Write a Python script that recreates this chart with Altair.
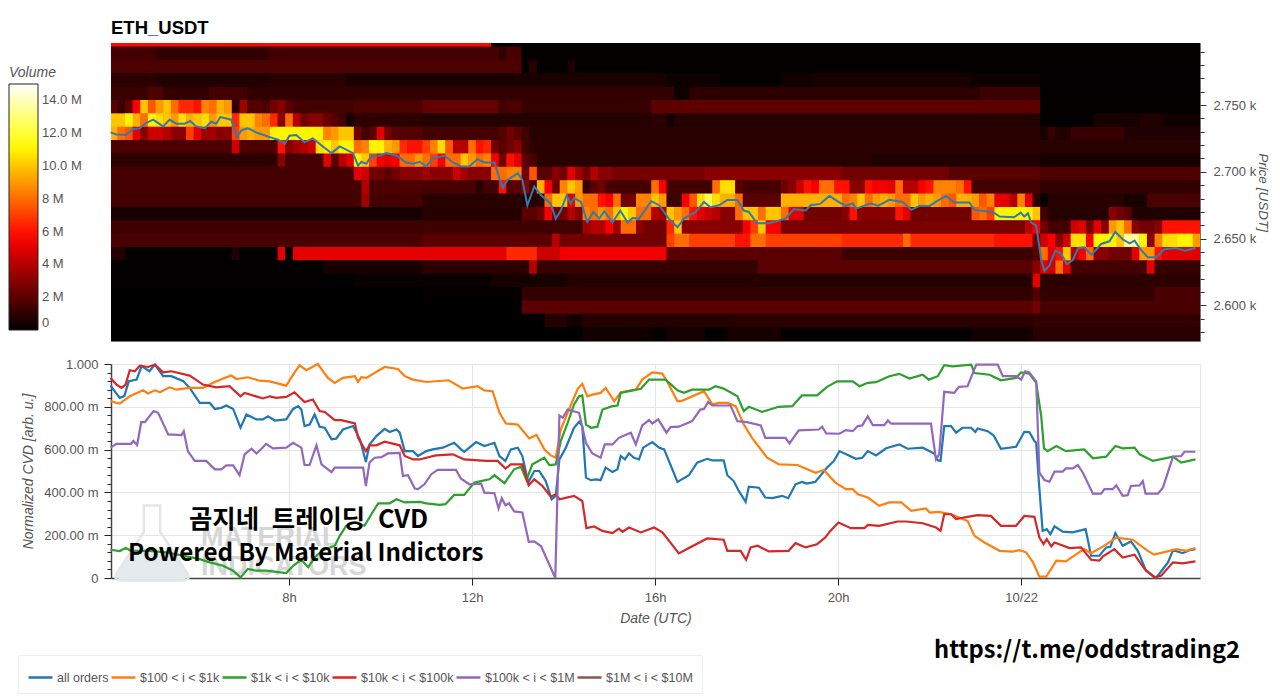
import altair as alt
import pandas as pd

# ---------- price heat-map: (first 10-minute column, volume in M) runs per price row ----------
row_2798 = [(0,5.8),(50,0.05)]
row_2788 = [(0,1.5),(6,1.1),(21,1.5),(51,1.1),(52,1.6),(54,0.08)]
row_2778 = [(0,1.7),(54,0.1),(55,0.9),(56,0.1),(60,0.6),(61,0.08)]
row_2768 = [(0,1.0),(6,0.7),(21,0.9),(31,0.6),(60,0.6),(73,0.3),(80,0.1),(88,0.4),(92,0.5),(113,0.3),(122,0.05)]
row_2758 = [(0,1.3),(5,1.7),(7,1.1),(13,1.5),(18,1.1),(74,0.3),(76,1.0),(114,1.3),(122,0.08)]
row_2748 = [(0,2),(1,1.3),(2,2.1),(3,5.6),(4,10),(5,7.5),(6,9),(7,10),(8,8),(9,6.5),(11,6),(12,8.5),(13,8),(14,9.5),(15,9),(16,1),(17,3.5),(18,1.8),(20,1.6),(21,2.5),(22,3),(23,2),(24,1.5),(32,1.7),(41,2.2),(51,1.5),(52,1.7),(54,1.2),(71,2.1),(122,0.08)]
row_2738 = [(0,10),(2,11),(3,9.5),(4,8),(5,11),(6,10.5),(7,10),(8,9),(9,10.5),(10,9.5),(11,10),(12,10.5),(13,9),(14,10),(16,6.5),(17,10),(19,8.5),(20,8),(21,6.5),(22,3),(23,8),(24,4),(25,2.5),(26,3),(28,2.3),(29,1.8),(30,1.5),(31,0.5),(32,1.0),(41,0.8),(71,1.0),(73,0.4),(74,0.8),(122,0.05),(129,0.5),(135,0.7),(138,0.4)]
row_2728 = [(0,9.5),(1,8),(2,7.5),(3,5),(4,3),(5,4.5),(7,4),(8,3),(10,7),(11,5),(12,3.5),(14,3),(16,7),(17,9),(18,9.5),(19,9),(21,11),(28,8.5),(29,9),(30,10),(32,2.5),(33,1.5),(34,2),(35,5),(36,2.5),(37,2),(38,1.8),(41,1.5),(51,1.8),(52,2.5),(53,2),(54,1.5),(55,0.9),(122,0.5),(123,1.2),(124,0.7),(126,1.2),(133,0.7)]
row_2718 = [(0,1.7),(16,4.5),(17,1.7),(22,6),(23,3),(24,3.5),(25,4),(26,4.5),(27,10.5),(28,11),(29,10),(30,11),(32,8),(33,8.5),(34,11),(36,9.5),(37,9),(38,6.5),(39,6),(41,7),(42,8.5),(43,10.5),(44,7.5),(45,4),(47,8),(48,6),(49,6.5),(50,2.5),(51,2),(52,2.5),(53,3),(54,1.5),(55,1),(122,0.9)]
row_2708 = [(0,1),(22,3),(23,1.5),(28,5),(29,2),(30,4),(31,5),(32,11),(33,10),(34,7),(35,5.5),(36,5),(37,5.5),(38,8),(40,9),(41,8),(42,7),(43,5.5),(44,8),(46,10),(47,9),(48,8),(49,8.5),(50,5.5),(51,2.5),(52,6),(53,5),(54,2),(55,1.6),(56,0.9),(100,0.7),(122,0.5)]
row_2698 = [(0,1.5),(32,5),(33,4.5),(34,2.5),(36,2),(37,2.5),(38,3),(41,3.5),(42,3),(45,4.5),(46,3.5),(47,3),(50,8),(52,8.5),(54,2.5),(55,7.5),(56,2),(58,3),(59,2.5),(60,5),(61,3.5),(62,2.5),(63,4),(64,3),(66,2.6),(78,3),(96,2.5),(110,2),(122,1.7)]
row_2688 = [(0,1.5),(33,4),(34,1.7),(41,1.6),(48,1.0),(49,1.5),(51,6),(52,2),(54,3),(55,1.5),(56,9.5),(57,5.5),(58,2.5),(59,8.5),(60,10),(61,9),(62,1.2),(63,2),(64,2.5),(65,1.5),(71,8),(72,5.5),(73,1.5),(79,8),(80,10.5),(82,2),(83,1.5),(88,2.5),(89,3),(90,4.5),(91,6),(92,5.5),(93,8),(95,6),(96,6),(97,3),(99,6),(100,5.5),(102,5),(103,8),(104,4),(106,5.5),(107,6),(108,8.5),(111,8),(112,6),(113,1.5),(122,1.1)]
row_2678 = [(0,1.5),(33,3.5),(34,1.5),(41,0.9),(57,8),(58,10),(60,5),(61,9),(62,8),(64,6),(65,5.5),(66,8),(67,2.5),(69,8.5),(71,10),(72,9),(73,1.3),(75,5.5),(76,7.5),(77,10.5),(78,12.5),(79,10.5),(80,9.5),(82,8),(83,2),(88,9.5),(96,8),(97,8.5),(98,10),(99,8),(100,9),(101,9.5),(102,9),(103,8),(105,10),(106,9),(107,9.5),(108,9),(109,8),(110,7.5),(111,9.5),(113,9),(114,7.5),(115,8.5),(116,5),(118,4),(119,8.5),(120,5),(121,1.0),(122,0.2),(123,0.9),(133,0.5),(136,1.6)]
row_2668 = [(0,0.5),(41,0.8),(54,2),(56,2.5),(57,5.5),(58,2.5),(60,4),(61,3),(62,8.5),(63,8),(64,9),(65,8),(66,10),(67,11),(68,10),(69,8),(71,4),(72,3.5),(73,10),(74,9),(75,8),(76,6),(77,5),(78,4.5),(79,4),(80,3),(82,8),(83,10),(85,8),(86,10),(88,8),(89,5),(91,2.5),(96,3),(97,6),(98,3),(103,6),(104,5),(105,2.5),(113,7.5),(114,8),(115,7),(116,11),(121,10),(122,1.5),(123,0.8),(131,3),(132,2.5),(133,2),(134,0.7)]
row_2658 = [(0,1.4),(62,3.5),(63,4),(65,5.5),(66,3.5),(67,8),(69,3),(70,2.5),(73,6.5),(74,10),(75,3),(83,5.5),(84,7),(85,10),(86,5.5),(88,2.7),(120,4),(121,5.5),(122,2.5),(123,1.5),(126,4.5),(127,5),(128,2.5),(129,5),(130,3),(131,9),(132,10),(133,8),(134,3),(135,2.5),(137,3),(138,6)]
row_2648 = [(0,1.6),(41,2),(58,4),(59,2.5),(73,7),(74,8),(76,7),(82,6),(84,8),(86,7),(96,6.5),(104,8),(105,6.5),(116,6),(121,2.5),(122,4.5),(123,5.5),(124,3),(125,4.5),(126,10.5),(128,5.5),(129,11),(132,10),(133,13.5),(135,11),(136,3),(137,8.5),(138,10.5),(140,11),(142,9)]
row_2638 = [(0,0.8),(2,0.1),(16,0.7),(17,0.1),(22,5),(23,0.1),(24,5),(52,6.5),(56,4.5),(59,5.3),(73,2),(96,1.3),(121,2),(122,8),(123,5),(124,6),(125,10),(126,4),(127,5.5),(128,8),(129,3),(131,2.5),(134,5),(135,9),(137,6),(138,5)]
row_2628 = [(0,0.05),(28,0.5),(41,1),(55,4),(56,1.2),(85,2),(121,3),(122,5),(123,4.5),(124,8),(125,5),(126,1.5),(136,5),(137,1.2)]
row_2618 = [(0,0.05),(32,0.2),(50,0.5),(60,0.8),(121,5),(122,1.0)]
row_2608 = [(0,0.03),(41,0.1),(54,1.1),(121,1.8),(122,1.1),(137,1.6)]
row_2598 = [(0,0.03),(54,2.0),(121,2.5),(122,1.6)]
row_2588 = [(0,0.03),(57,0.8),(60,0.4),(62,0.8),(82,1.0),(121,1.1)]
row_2578 = [(0,0.03),(62,0.4),(71,0.1),(73,0.5),(78,0.1),(81,0.5),(88,0.1),(113,0.4),(121,0.9)]

HEAT_ROWS = [row_2798,row_2788,row_2778,row_2768,row_2758,row_2748,row_2738,row_2728,row_2718,row_2708,row_2698,row_2688,
             row_2678,row_2668,row_2658,row_2648,row_2638,row_2628,row_2618,row_2608,row_2598,row_2588,row_2578]
ROW_TOPS = [2803.75,2793.75,2783.75,2773.75,2763.75,2753.75,2743.75,2733.75,2723.75,2713.75,2703.75,2693.75,
            2683.75,2673.75,2663.75,2653.75,2643.75,2633.75,2623.75,2613.75,2603.75,2593.75,2583.75]
N_COLS = 143
FIRST_EDGE_HOUR = 4 + 1/12

# ---------- price line ----------
price_h = [4.10,4.23,4.44,4.59,4.74,4.85,5.03,5.25,5.39,5.54,5.72,5.84,5.97,6.16,6.3,6.41,6.5,6.74,6.86,6.96,7.1,7.32,7.58,7.76,7.91,8.01,8.16,8.34,8.52,8.74,8.93,9.11,9.4,9.51,9.58,9.69,9.8,9.98,10.13,10.35,10.56,10.71,10.86,11.0,11.14,11.4,11.58,11.76,11.94,12.12,12.27,12.49,12.6,12.67,12.78,13.0,13.1,13.21,13.36,13.51,13.72,13.83,13.94,14.07,14.16,14.23,14.38,14.52,14.65,14.78,14.89,15.07,15.24,15.4,15.51,15.65,15.92,16.09,16.3,16.49,16.63,16.89,17.07,17.21,17.4,17.58,17.8,17.94,18.05,18.23,18.49,18.85,19.03,19.29,19.4,19.61,19.81,20.01,20.17,20.32,20.39,20.72,20.87,21.12,21.41,21.6,21.78,22.0,22.18,22.36,22.54,22.87,22.98,23.38,23.53,23.85,23.99,24.07,24.15,24.22,24.33,24.44,24.51,24.62,24.75,24.87,25.0,25.13,25.25,25.38,25.54,25.75,25.93,26.06,26.22,26.37,26.48,26.62,26.77,26.95,27.13,27.39,27.57,27.81]
price_v = [2729.5,2728,2727.5,2732,2732.5,2736,2739,2734,2739,2736,2736,2738,2734,2732.5,2737.5,2736,2741,2739,2726,2731,2732.5,2729,2726,2724,2721,2727,2727.5,2722,2725,2719,2714,2719,2714,2704.5,2707.5,2706,2712,2712,2714,2712,2707,2706,2707.5,2704,2710,2712,2707,2704,2704,2709.5,2707,2707,2695,2688,2694,2699,2694,2675,2689,2682.5,2676,2665,2671,2682.5,2676,2680.5,2677.5,2662.5,2670,2665,2670.5,2662,2671,2662,2665.5,2665,2678,2675,2665,2658.5,2665,2670,2677.5,2673.5,2675,2679,2679,2671,2670,2661.5,2661.5,2665,2672,2671,2675,2676,2682,2677.5,2674.5,2676.5,2672.5,2676.5,2674.5,2679,2677.5,2671.5,2674.5,2674.5,2678.5,2682,2677,2677,2671.5,2670,2666.5,2666,2669.5,2666.5,2669,2662,2660,2634,2626,2630,2641,2639,2631,2634,2643,2643.5,2638,2646,2648,2655,2649.5,2646.5,2648.5,2641.5,2636,2636,2642,2643,2641,2643]

# ---------- normalized CVD series: hours and milli-units ----------
all_h = [4.10,4.30,4.40,4.50,4.67,4.78,4.95,5.07,5.25,5.43,5.69,5.83,6.05,6.27,6.38,6.52,6.63,6.78,6.94,7.07,7.29,7.43,7.54,7.69,7.94,8.09,8.20,8.27,8.34,8.45,8.56,8.67,8.78,8.93,9.03,9.18,9.40,9.55,9.68,9.76,9.91,10.09,10.2,10.35,10.42,10.53,10.71,10.82,11.0,11.14,11.36,11.61,11.76,11.83,12.09,12.27,12.49,12.6,12.73,12.85,13.0,13.1,13.23,13.36,13.47,13.61,13.74,13.83,13.91,14.05,14.23,14.34,14.41,14.49,14.6,14.71,14.81,14.92,15.07,15.18,15.25,15.34,15.43,15.54,15.65,15.74,15.94,16.09,16.2,16.49,16.74,16.92,17.14,17.25,17.5,17.58,17.72,17.83,17.98,18.05,18.27,18.41,18.56,18.78,18.91,19.07,19.21,19.32,19.5,19.76,19.91,20.03,20.39,20.53,20.65,20.83,21.05,21.34,21.52,21.85,22.1,22.18,22.24,22.32,22.47,22.58,22.72,22.91,23.0,23.05,23.27,23.4,23.56,23.89,24.07,24.18,24.29,24.33,24.39,24.47,24.56,24.64,24.73,24.91,25.13,25.41,25.53,25.71,25.86,25.95,26.06,26.22,26.4,26.55,26.73,26.95,27.21,27.32,27.53,27.68,27.81]
all_v = [899,842,850,920,927,990,966,997,943,943,920,888,818,818,790,795,806,790,702,764,741,741,756,736,741,790,803,787,710,717,764,707,702,648,651,694,710,648,542,624,663,697,682,694,679,593,593,570,593,601,609,632,601,589,635,617,632,570,547,601,609,570,446,500,500,453,368,384,554,609,702,730,710,469,457,461,457,516,495,508,570,554,582,562,554,609,635,609,601,449,480,539,557,550,550,480,453,407,356,427,422,376,373,384,373,438,449,441,449,516,547,593,557,562,593,573,606,624,604,609,582,550,547,710,710,679,702,702,682,699,686,666,604,613,683,682,640,632,446,220,228,205,241,217,213,228,104,104,143,146,210,151,171,127,34,0,73,130,116,130,135]

orange_h = [4.10,4.30,4.52,4.81,4.92,5.07,5.18,5.39,5.54,5.83,6.12,6.34,6.59,6.74,6.85,7.1,7.36,7.58,7.94,8.09,8.23,8.38,8.63,8.85,9.0,9.18,9.44,9.51,9.58,9.69,10.09,10.38,10.53,10.71,11.0,11.49,11.8,12.12,12.27,12.45,12.6,12.74,13.0,13.25,13.41,13.58,13.72,13.83,13.94,14.09,14.31,14.41,14.52,14.63,14.81,14.92,15.11,15.25,15.58,15.72,15.94,16.16,16.3,16.49,16.6,17.07,17.25,17.4,17.58,17.76,17.94,18.12,18.45,18.71,19.11,19.51,19.69,19.94,20.17,20.32,20.43,20.65,20.9,21.12,21.38,21.6,21.92,22.0,22.2,22.47,22.83,22.98,23.2,23.53,23.82,23.96,24.11,24.26,24.4,24.55,24.77,24.98,25.24,25.38,25.53,25.82,26.08,26.44,26.77,26.91,27.24,27.39,27.61,27.81]
orange_v = [826,815,849,877,862,877,868,891,880,888,888,912,935,946,930,938,922,919,899,950,994,971,1000,935,912,935,943,916,938,935,986,977,943,927,916,924,885,896,877,873,772,722,717,652,668,601,573,562,694,772,884,908,849,857,865,888,826,868,880,927,961,955,904,826,829,873,811,818,818,803,717,655,562,531,528,492,505,446,415,415,391,376,337,353,353,314,325,306,309,298,267,197,166,127,123,130,120,73,6,6,81,78,116,135,116,151,189,179,127,109,127,135,127,140]

green_h = [4.10,4.30,4.43,4.55,4.95,5.32,5.76,6.05,6.27,6.56,6.78,6.94,7.1,7.29,7.5,7.94,8.09,8.27,8.42,8.56,8.74,9.0,9.11,9.25,9.44,9.65,9.8,9.95,10.2,10.35,10.53,10.86,11.0,11.29,11.42,11.61,11.83,12.05,12.38,12.49,12.71,12.92,13.07,13.19,13.32,13.58,13.69,13.83,13.94,14.09,14.23,14.34,14.41,14.49,14.6,14.74,14.85,15.07,15.18,15.25,15.51,15.69,15.87,16.23,16.49,16.63,16.81,17.18,17.32,17.5,17.8,17.94,18.05,18.34,18.7,19.0,19.21,19.54,19.76,19.98,20.32,20.47,20.65,20.83,21.12,21.34,21.56,21.85,21.98,22.18,22.32,22.5,22.91,22.98,23.31,23.56,23.89,24.0,24.18,24.33,24.44,24.5,24.58,24.77,24.98,25.38,25.57,25.86,26.06,26.22,26.48,26.59,26.88,27.32,27.5,27.81]
green_v = [132,126,140,127,127,120,101,88,73,57,34,3,42,34,34,23,57,85,50,96,130,151,197,244,259,244,298,349,349,368,353,356,349,342,345,388,388,446,461,480,443,508,520,458,531,562,528,531,640,725,811,849,853,717,702,707,787,803,806,865,877,884,927,927,877,865,880,880,896,885,849,780,800,776,800,803,853,853,893,919,919,896,912,915,943,954,932,950,927,943,994,989,997,958,950,924,935,961,955,912,756,606,593,617,593,601,559,567,617,606,609,578,547,567,539,554]

red_h = [4.10,4.23,4.34,4.43,4.52,4.63,4.74,4.92,5.07,5.25,5.43,5.83,6.12,6.41,6.7,6.94,7.03,7.43,7.58,7.72,7.94,8.12,8.34,8.52,8.67,8.78,9.0,9.14,9.44,9.51,9.68,9.76,9.91,10.09,10.42,10.53,10.71,10.85,11.21,11.58,11.83,12.31,12.56,12.73,12.85,13.1,13.24,13.36,13.54,13.72,13.83,13.91,14.23,14.41,14.5,14.67,14.85,15.07,15.21,15.29,15.43,15.69,15.98,16.16,16.52,16.74,17.14,17.5,17.58,17.87,17.99,18.09,18.24,18.49,18.92,19.07,19.29,19.54,19.72,19.83,20.01,20.28,20.58,20.65,20.9,21.3,21.49,21.85,22.14,22.24,22.32,22.47,22.58,22.83,23.05,23.34,23.56,23.89,24.07,24.29,24.4,24.49,24.56,24.66,24.73,25.06,25.31,25.53,25.71,25.79,26.04,26.22,26.48,26.7,26.91,27.06,27.32,27.53,27.81]
red_v = [935,904,888,904,971,966,992,986,997,961,966,946,904,891,896,849,865,839,849,842,846,868,822,834,780,776,738,738,722,655,593,620,620,637,620,570,554,554,573,578,554,547,547,511,531,531,433,461,430,380,391,368,384,360,233,241,220,210,231,216,236,213,236,213,115,140,185,179,127,127,85,143,151,124,127,163,143,158,189,220,259,233,233,248,244,264,264,256,236,220,298,298,275,286,294,290,244,244,290,286,189,158,182,148,166,140,143,85,81,101,135,96,109,42,3,11,73,68,78]

purple_h = [4.10,4.23,4.55,4.6,4.68,4.77,4.85,5.04,5.14,5.36,5.65,5.7,5.79,5.94,6.19,6.38,6.52,6.63,6.78,6.92,7.03,7.18,7.29,7.4,7.5,7.65,7.94,8.09,8.27,8.34,8.45,8.6,8.71,8.93,9.0,9.62,9.68,9.76,9.87,10.02,10.16,10.42,10.49,10.6,10.75,10.82,10.96,11.11,11.25,11.65,11.76,11.94,12.2,12.27,12.49,12.58,12.65,12.73,12.81,12.92,13.1,13.24,13.36,13.51,13.82,13.91,13.98,14.09,14.34,14.49,14.63,14.81,14.9,15.07,15.21,15.47,15.58,15.72,15.87,15.94,16.07,16.25,16.34,16.52,16.81,16.99,17.07,17.16,17.25,17.65,17.8,18.01,18.31,18.41,18.85,18.94,19.14,19.58,19.65,19.74,20.03,20.17,20.32,20.43,20.53,20.65,20.76,21.01,21.09,21.16,22.03,22.14,22.21,22.32,22.54,22.64,22.83,23.02,23.49,23.6,23.89,24.0,24.09,24.18,24.33,24.4,24.51,24.62,24.73,24.91,24.98,25.13,25.24,25.35,25.57,25.75,25.82,26.0,26.08,26.22,26.33,26.4,26.59,26.66,26.72,26.99,27.1,27.32,27.5,27.57,27.81]
purple_v = [609,627,627,640,621,728,728,780,772,671,668,686,593,547,547,508,508,526,526,480,578,604,582,604,627,606,609,632,609,528,528,620,531,495,516,516,430,539,562,565,582,585,477,480,418,415,438,485,505,505,464,438,441,399,396,325,373,340,349,311,306,169,171,148,0,759,749,787,772,632,582,562,624,624,655,679,624,713,738,722,741,679,705,707,733,787,790,823,806,806,733,728,713,655,655,629,690,694,707,676,674,691,686,710,713,756,714,714,736,721,721,554,578,870,865,893,896,997,997,943,943,927,966,961,919,492,458,450,497,497,512,512,528,492,394,394,415,415,433,384,387,430,433,453,394,394,422,567,570,590,590]

SERIES_NAMES = ["all orders","$100 < i < $1k","$1k < i < $10k","$10k < i < $100k","$100k < i < $1M","$1M < i < $10M"]
SERIES_COLORS = ["#1f77b4","#ff7f0e","#2ca02c","#d62728","#9467bd","#8c564b"]
SERIES_H = [all_h, orange_h, green_h, red_h, purple_h]
SERIES_V = [all_v, orange_v, green_v, red_v, purple_v]

# ---------- axis ticks ----------
PRICE_TICKS = [2580,2590,2600,2610,2620,2630,2640,2650,2660,2670,2680,2690,2700,2710,2720,2730,2740,2750,2760,2770,2780,2790]
CVD_TICKS = [0,40,80,120,160,200,240,280,320,360,400,440,480,520,560,600,640,680,720,760,800,840,880,920,960,1000]
HOUR_TICKS = [8,12,16,20,24]
VOLUME_TICKS = [0,2,4,6,8,10,12,14]

FONT = "Liberation Sans"
GRAY = "#555555"

# Each run reaches a hair into its right and lower neighbours, which are drawn over it, so no seams show.
heat_records = []
for top_edge, runs in zip(ROW_TOPS, HEAT_ROWS):
    for i, (start, vol) in enumerate(runs):
        end = runs[i+1][0] if i+1 < len(runs) else N_COLS
        heat_records.append({"h0": FIRST_EDGE_HOUR + start/6, "h1": FIRST_EDGE_HOUR + end/6 + 0.012,
                             "p0": top_edge - 10.4, "p1": top_edge, "volume": vol})
heat_df = pd.DataFrame(heat_records)
price_df = pd.DataFrame({"hour": price_h, "price": price_v})
cvd_records = []
for name, hs, vs in zip(SERIES_NAMES, SERIES_H, SERIES_V):
    cvd_records += [{"hour": h, "cvd": v, "series": name} for h, v in zip(hs, vs)]
cvd_df = pd.DataFrame(cvd_records)

x_scale = alt.Scale(domain=[4.11, 27.91], nice=False, zero=False)
hot = alt.Scale(domain=[0, 5.625, 11.25, 15], range=["#000000", "#ff0000", "#ffff00", "#ffffff"], clamp=True, interpolate="rgb")
price_scale = alt.Scale(domain=[2573.4, 2796.4], nice=False, zero=False)
price_axis = alt.Axis(orient="right", values=PRICE_TICKS, grid=False, domain=False,
                      title="Price [USDT]", titleAngle=90, titleFontStyle="italic", titleFontWeight="normal",
                      titleFont=FONT, titleFontSize=13.5, titleColor=GRAY, titlePadding=0, titleBaseline="bottom",
                      labelFont=FONT, labelFontSize=13, labelColor=GRAY, labelPadding=7,
                      labelExpr="datum.value % 50 == 0 ? format(datum.value/1000, '.3f') + ' k' : ''",
                      labelOverlap=False, tickColor="#333333",
                      tickSize={"condition": {"test": "datum.value % 50 == 0", "value": 6}, "value": 4})

heat = alt.Chart(heat_df).mark_rect(clip=True).encode(
    x=alt.X("h0:Q", scale=x_scale, axis=None),
    x2="h1:Q",
    y=alt.Y("p0:Q", scale=price_scale, axis=price_axis),
    y2="p1:Q",
    color=alt.Color("volume:Q", scale=hot, legend=alt.Legend(
        type="gradient", title="Volume", orient="none", legendX=-102, legendY=23, direction="vertical",
        gradientLength=246, gradientThickness=29, gradientStrokeColor="#222222", gradientStrokeWidth=1,
        values=VOLUME_TICKS, labelOverlap=False, labelFont=FONT, labelFontSize=13, labelColor=GRAY,
        labelAlign="center", labelBaseline="middle", labelOffset=4, titlePadding=4,
        labelExpr="datum.value == 0 ? '0\u00a0\u00a0\u00a0' : datum.value >= 10 ? format(datum.value, '.1f') + ' M' : datum.value + ' M'",
        titleFont=FONT, titleFontSize=14, titleFontStyle="italic", titleFontWeight="normal", titleColor=GRAY)),
)
price_line = alt.Chart(price_df).mark_line(color="#2f7bb0", strokeWidth=2).encode(
    x=alt.X("hour:Q", scale=x_scale, axis=None),
    y=alt.Y("price:Q", scale=price_scale, axis=price_axis),
)
top = alt.layer(heat, price_line).properties(
    width=1089, height=298,
    title=alt.TitleParams("ETH_USDT", anchor="start", frame="group", font=FONT, fontSize=18.5, fontWeight="bold", color="#000000", offset=6),
    view=alt.ViewConfig(stroke="#777777", fill="#000000"),
)

def note(text, x, y, size, font="Noto Sans CJK KR", weight="bold", color="#000000", opacity=1.0):
    return alt.Chart(pd.DataFrame({"label": [text]})).mark_text(
        align="left", baseline="middle", font=font, fontSize=size, fontWeight=weight, color=color, opacity=opacity, clip=False
    ).encode(x=alt.value(x), y=alt.value(y), text="label:N")

FLASK = "M-0.22,-1 L0.22,-1 L0.22,-0.3 L0.95,0.82 Q1.05,1 0.8,1 L-0.8,1 Q-1.05,1 -0.95,0.82 L-0.22,-0.3 Z"
LIQUID = "M-0.6,0.25 L0.6,0.25 L0.92,0.82 Q1,0.97 0.8,0.97 L-0.8,0.97 Q-1,0.97 -0.92,0.82 Z"
flask = alt.Chart(pd.DataFrame({"f": [1]})).mark_point(shape=FLASK, size=5600, filled=False, stroke="#e6e6e6", strokeWidth=2.5, opacity=1).encode(
    x=alt.value(41), y=alt.value(179))
liquid = alt.Chart(pd.DataFrame({"f": [1]})).mark_point(shape=LIQUID, size=5600, filled=True, fill="#e3ebee", strokeWidth=0, opacity=1).encode(
    x=alt.value(41), y=alt.value(179))

lines = alt.Chart(cvd_df).mark_line(strokeWidth=2.2).encode(
    x=alt.X("hour:Q", scale=x_scale, axis=alt.Axis(
        values=HOUR_TICKS, title="Date (UTC)", grid=True, gridColor="#e6e6e6",
        labelExpr="datum.value == 24 ? '10/22' : datum.value + 'h'",
        labelFont=FONT, labelFontSize=13, labelColor=GRAY, labelPadding=6, tickColor="#222222", tickSize=7,
        domainColor="#444444", domainWidth=1.5, titleFont=FONT, titleFontSize=14, titleFontStyle="italic",
        titleFontWeight="normal", titleColor=GRAY, titlePadding=7)),
    y=alt.Y("cvd:Q", scale=alt.Scale(domain=[0, 1000], nice=False), axis=alt.Axis(
        values=CVD_TICKS, title="Normalized CVD [arb. u.]", labelOverlap=False,
        labelExpr="datum.value == 1000 ? '1.000' : datum.value == 0 ? '0' : datum.value % 200 == 0 ? format(datum.value, '.2f') + ' m' : ''",
        gridColor="#e6e6e6", gridOpacity={"condition": {"test": "datum.value % 200 == 0", "value": 1}, "value": 0},
        tickSize={"condition": {"test": "datum.value % 200 == 0", "value": 7}, "value": 4}, tickColor="#222222",
        labelFont=FONT, labelFontSize=13, labelColor=GRAY, labelPadding=6,
        domainColor="#444444", domainWidth=1.5, titleFont=FONT, titleFontSize=14, titleFontStyle="italic",
        titleFontWeight="normal", titleColor=GRAY, titlePadding=8)),
    color=alt.Color("series:N", scale=alt.Scale(domain=SERIES_NAMES, range=SERIES_COLORS), legend=alt.Legend(
        title=None, orient="none", legendX=-93, legendY=291, direction="horizontal", columns=6, gridAlign="none",
        symbolType="stroke", symbolSize=576, symbolStrokeWidth=2.5, labelFont=FONT, labelFontSize=12.5, labelColor=GRAY,
        labelOffset=3, columnPadding=-3, padding=9, strokeColor="#eeeeee", fillColor="#ffffff", labelLimit=200)),
    detail="series:N",
)

bottom = alt.layer(
    liquid, flask,
    note("MATERIAL", 90, 174, 27, font=FONT, color="#c9c9c9", opacity=0.75),
    note("INDICATORS", 90, 203, 27, font=FONT, color="#c9c9c9", opacity=0.75),
    lines,
    note("곰지네\u2002트레이딩\u2002CVD", 78, 156, 25.4),
    note("Powered By Material Indictors", 17, 190, 24.2),
    note("https://t.me/oddstrading2", 823, 287, 23.7),
).properties(width=1089, height=214, view=alt.ViewConfig(stroke="#e6e6e6"))

chart = alt.vconcat(top, bottom, spacing=15).resolve_scale(color="independent").properties(
    padding={"left": 0, "right": 0, "top": 10, "bottom": 0}, background="white"
)
chart.save("out.html", embed_options={"renderer": "svg", "actions": False})
